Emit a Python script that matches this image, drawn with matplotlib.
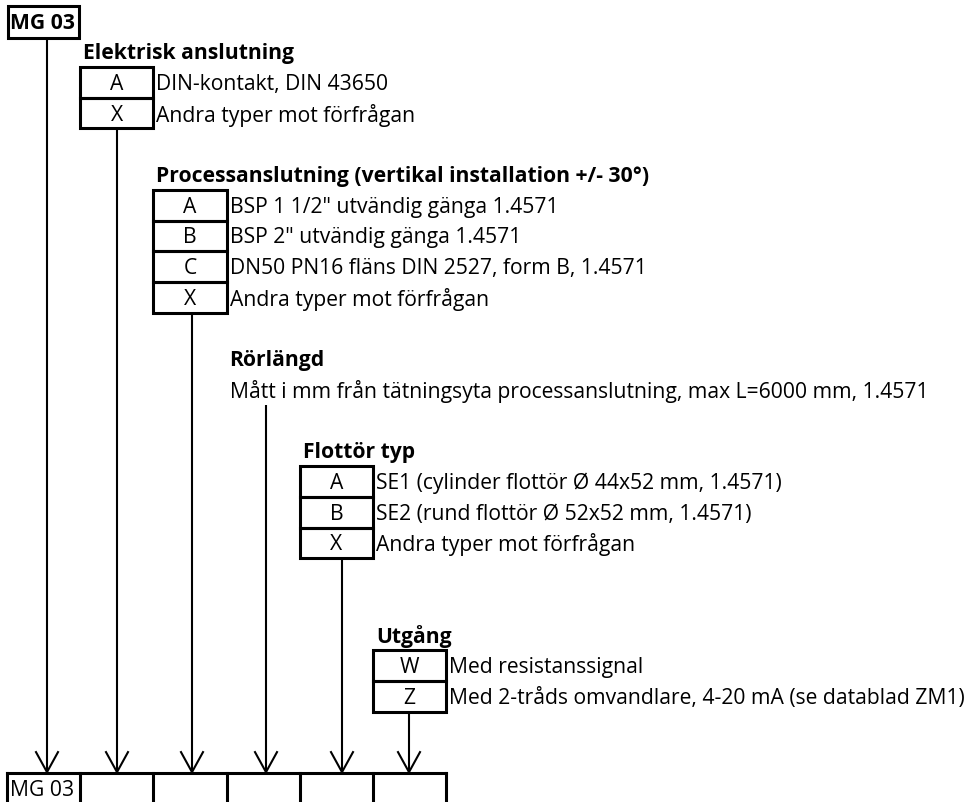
import matplotlib.pyplot as plt
from matplotlib.patches import Rectangle

plt.rcParams['font.family'] = ['Open Sans', 'DejaVu Sans']

# grid of the sheet (pixels)
W, H = 968, 803
ROW_H = 30.7
ROW_0 = 6.6
COL_W = 73.2
COL_0 = 7.0
FS = 15.2

model = "MG 03"

elektrisk_titel = "Elektrisk anslutning"
elektrisk_koder = ["A", "X"]
elektrisk_text = ["DIN-kontakt, DIN 43650", "Andra typer mot förfrågan"]

process_titel = "Processanslutning (vertikal installation +/- 30°)"
process_koder = ["A", "B", "C", "X"]
process_text = ['BSP 1 1/2" utvändig gänga 1.4571',
                'BSP 2" utvändig gänga 1.4571',
                "DN50 PN16 fläns DIN 2527, form B, 1.4571",
                "Andra typer mot förfrågan"]

ror_titel = "Rörlängd"
ror_text = "Mått i mm från tätningsyta processanslutning, max L=6000 mm, 1.4571"

flottor_titel = "Flottör typ"
flottor_koder = ["A", "B", "X"]
flottor_text = ["SE1 (cylinder flottör Ø 44x52 mm, 1.4571)",
                "SE2 (rund flottör Ø 52x52 mm, 1.4571)",
                "Andra typer mot förfrågan"]

utgang_titel = "Utgång"
utgang_koder = ["W", "Z"]
utgang_text = ["Med resistanssignal",
               "Med 2-tråds omvandlare, 4-20 mA (se datablad ZM1)"]

# (titel, koder, texter, kolumn, titelrad)
sektioner = [
    (elektrisk_titel, elektrisk_koder, elektrisk_text, 1, 1),
    (process_titel, process_koder, process_text, 2, 5),
    (flottor_titel, flottor_koder, flottor_text, 4, 14),
    (utgang_titel, utgang_koder, utgang_text, 5, 20),
]
pijl_x = [47, 117, 192, 266, 342, 409]
tabell_rad = 25


def rad_top(r):
    return ROW_0 + r * ROW_H


def kol_vanster(c):
    return COL_0 + c * COL_W


fig = plt.figure(figsize=(W / 100, H / 100), dpi=100)
ax = fig.add_axes([0, 0, 1, 1])
ax.set_xlim(0, W)
ax.set_ylim(H, 0)
ax.axis("off")

LW_BOX = 2.2
LW_LINE = 1.5

# top model box
ax.add_patch(Rectangle((kol_vanster(0) + 1, rad_top(0)), COL_W - 2, ROW_H + 2,
                       fill=False, lw=LW_BOX, ec="black"))
ax.text(kol_vanster(0) + COL_W / 2 - 1, rad_top(0) + ROW_H / 2 + 2, model,
        fontsize=FS, fontweight="bold", ha="center", va="center")
line_start = [rad_top(1) + 2]

for titel, koder, texter, kol, trad in sektioner:
    x0 = kol_vanster(kol)
    ax.text(x0 + 3, rad_top(trad) + ROW_H / 2 + 1, titel, fontsize=FS,
            fontweight="bold", ha="left", va="center")
    for i, (k, t) in enumerate(zip(koder, texter)):
        y0 = rad_top(trad + 1 + i)
        ax.add_patch(Rectangle((x0, y0), COL_W, ROW_H, fill=False,
                               lw=LW_BOX, ec="black"))
        ax.text(x0 + COL_W / 2, y0 + ROW_H / 2 + 1, k, fontsize=FS,
                ha="center", va="center")
        ax.text(x0 + COL_W + 3, y0 + ROW_H / 2 + 1, t, fontsize=FS,
                ha="left", va="center")
    line_start.append(rad_top(trad + 1 + len(koder)))
    if kol == 2:
        # Rörlängd has no box
        x3 = kol_vanster(3)
        ax.text(x3 + 3, rad_top(11) + ROW_H / 2 + 1, ror_titel, fontsize=FS,
                fontweight="bold", ha="left", va="center")
        ax.text(x3 + 3, rad_top(12) + ROW_H / 2 + 1, ror_text, fontsize=FS,
                ha="left", va="center")
        line_start.append(rad_top(13))

# connector lines with open arrow heads
y_tip = rad_top(tabell_rad)
for x, ys in zip(pijl_x, line_start):
    ax.plot([x, x], [ys, y_tip - 1], color="black", lw=LW_LINE,
            solid_capstyle="butt")
    ax.plot([x - 11, x, x + 11], [y_tip - 21, y_tip - 1, y_tip - 21],
            color="black", lw=LW_LINE, solid_joinstyle="miter")

# bottom table
xs = [kol_vanster(c) for c in range(7)]
ax.plot([xs[0], xs[-1]], [y_tip, y_tip], color="black", lw=LW_BOX,
        solid_capstyle="projecting", clip_on=False)
for x in xs:
    ax.plot([x, x], [y_tip, H + 5], color="black", lw=LW_BOX, clip_on=False)
ax.text(xs[0] + 3, y_tip + ROW_H / 2 + 1, model, fontsize=FS,
        ha="left", va="center")

fig.savefig("out.png", dpi=100, facecolor="white")
